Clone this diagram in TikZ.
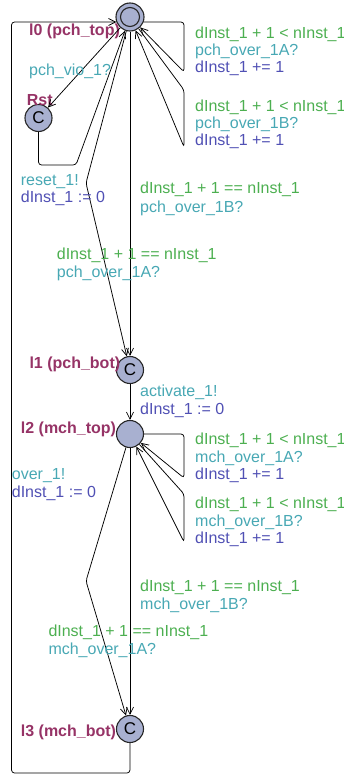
\documentclass[tikz,border=0pt]{standalone}
\usepackage{fontspec}
\setmainfont{Liberation Sans}
\usetikzlibrary{arrows.meta}
\definecolor{locfill}{HTML}{A8B0D0}
\definecolor{locname}{HTML}{963366}
\definecolor{grdcol}{HTML}{4CAF50}
\definecolor{syncol}{HTML}{48A8B4}
\definecolor{updcol}{HTML}{5050B4}
\tikzset{
  loc/.style={circle,draw=black!85,fill=locfill,line width=1.1pt,minimum size=27pt,inner sep=0pt,font=\fontsize{17}{17}\selectfont},
  trans/.style={-{Straight Barb[length=7pt,width=7pt]},black,line width=0.75pt,rounded corners=3pt},
  lbl/.style={anchor=base west,inner sep=0pt,font=\fontsize{16}{18}\selectfont},
  grd/.style={lbl,grdcol},
  syn/.style={lbl,syncol},
  upd/.style={lbl,updcol},
  lname/.style={lbl,locname,font=\fontsize{16}{18}\selectfont\bfseries},
}
\begin{document}
\begin{tikzpicture}[x=1pt,y=-1pt]
  \useasboundingbox (0,0) rectangle (344,776);
  % locations
  \node[loc,minimum size=28pt] (l0) at (130,17) {};
  \draw[line width=1.1pt,black!85] (l0.center) circle (9.5pt);
  \node[loc] (rst) at (38.5,118) {C};
  \node[loc] (l1) at (130,370) {C};
  \node[loc] (l2) at (130,434) {};
  \node[loc] (l3) at (130,729) {C};
  \node[lname] (n0) at (29,36) {l0 (pch\_top)};
  \node[lname] (nrst) at (26.7,105) {Rst};
  \node[lname] (n1) at (29.3,368) {l1 (pch\_bot)};
  \node[lname] (n2) at (20.7,433) {l2 (mch\_top)};
  \node[lname] (n3) at (20.7,736.5) {l3 (mch\_bot)};
  % transitions
  \draw[trans] (l0) -- (rst);
  \draw[trans] (rst) -- (38.5,165) -- (76,165) -- (l0);
  \draw[trans] (l0.-20) -- (184,22) -- (184,72) -- (l0);
  \draw[trans] (l0) -- (184,90) -- (184,147) -- (l0);
  \draw[trans] (l0) -- (l1);
  \draw[trans] (l0) -- (86,183) -- (l1);
  \draw[trans] (l1) -- (l2);
  \draw[trans] (l2.east) -- (184,434) -- (184,478) -- (l2);
  \draw[trans] (l2) -- (184,494) -- (184,542) -- (l2);
  \draw[trans] (l2) -- (l3);
  \draw[trans] (l2) -- (86,581) -- (l3);
  \draw[trans] (l3) -- (130,773) -- (11.5,773) -- (11.5,22) -- (l0.200);
  % labels, pch part
  \node[syn] (s0r) at (29,75) {pch\_vio\_1?};
  \node[syn] (sr0) at (20.7,185) {reset\_1!};
  \node[upd] (ur0) at (20.7,202) {dInst\_1 := 0};
  \node[grd] (g0a) at (195,38) {dInst\_1 + 1 < nInst\_1};
  \node[syn] (s0a) at (195,56) {pch\_over\_1A?};
  \node[upd] (u0a) at (195,73) {dInst\_1 += 1};
  \node[grd] (g0b) at (195,111) {dInst\_1 + 1 < nInst\_1};
  \node[syn] (s0b) at (195,128) {pch\_over\_1B?};
  \node[upd] (u0b) at (195,145) {dInst\_1 += 1};
  \node[grd] (g01b) at (140,193) {dInst\_1 + 1 == nInst\_1};
  \node[syn] (s01b) at (140,212) {pch\_over\_1B?};
  \node[grd] (g01a) at (56.7,259) {dInst\_1 + 1 == nInst\_1};
  \node[syn] (s01a) at (56.7,277) {pch\_over\_1A?};
  \node[syn] (s12) at (140,396.5) {activate\_1!};
  \node[upd] (u12) at (140,414) {dInst\_1 := 0};
  % labels, mch part
  \node[grd] (g2a) at (195,444) {dInst\_1 + 1 < nInst\_1};
  \node[syn] (s2a) at (195,462) {mch\_over\_1A?};
  \node[upd] (u2a) at (195,479) {dInst\_1 += 1};
  \node[grd] (g2b) at (195,508) {dInst\_1 + 1 < nInst\_1};
  \node[syn] (s2b) at (195,526) {mch\_over\_1B?};
  \node[upd] (u2b) at (195,543) {dInst\_1 += 1};
  \node[syn] (s30) at (11.7,479) {over\_1!};
  \node[upd] (u30) at (11.7,497.5) {dInst\_1 := 0};
  \node[grd] (g23b) at (140,591) {dInst\_1 + 1 == nInst\_1};
  \node[syn] (s23b) at (140,609) {mch\_over\_1B?};
  \node[grd] (g23a) at (48.3,636.5) {dInst\_1 + 1 == nInst\_1};
  \node[syn] (s23a) at (48.3,654) {mch\_over\_1A?};
\end{tikzpicture}
\end{document}
